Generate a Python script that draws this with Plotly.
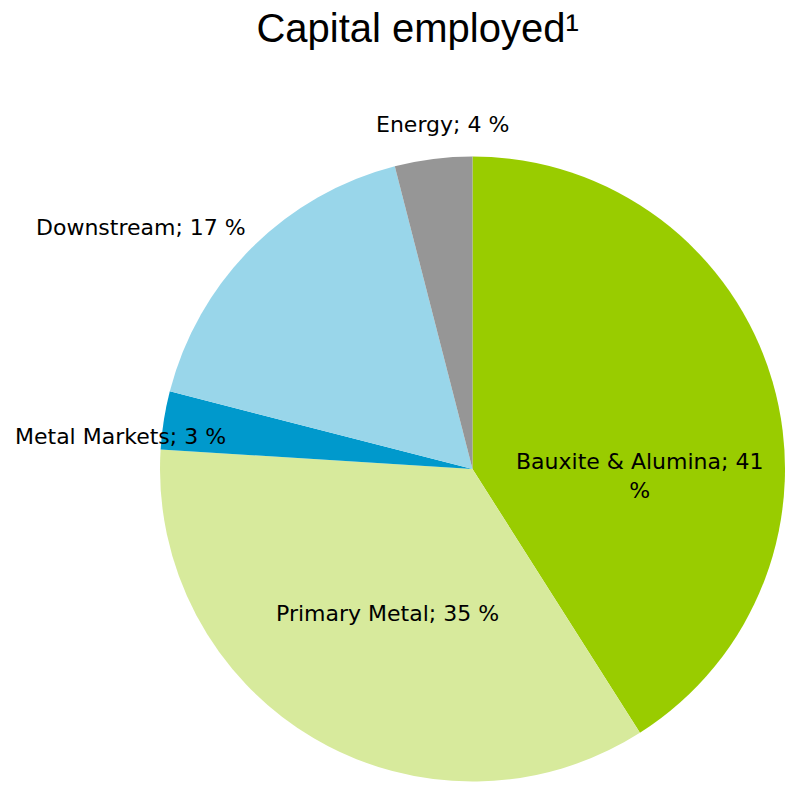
import plotly.graph_objects as go

# Capital employed by business area (share of total, %)
segments = ["Bauxite & Alumina", "Primary Metal", "Metal Markets", "Downstream", "Energy"]
shares = [41, 35, 3, 17, 4]
colors = ["#99CC00", "#D7EA9C", "#0099CC", "#99D6EA", "#969696"]

# Label anchor points (paper coordinates) and line wrapping
label_pos = [(0.815, 0.395), (0.493, 0.219), (0.154, 0.445), (0.180, 0.711), (0.564, 0.841)]
wrap_last = [True, False, False, False, False]

W, H = 785, 786
cx, cy, r = 474, 469, 314  # pie centre / radius in pixels (from top-left)

fig = go.Figure(
    go.Pie(
        labels=segments,
        values=shares,
        sort=False,
        direction="clockwise",
        rotation=0,
        marker=dict(colors=colors, line=dict(width=0)),
        textinfo="none",
        hoverinfo="label+value",
        showlegend=False,
        domain=dict(
            x=[(cx - r) / W, min(1.0, (cx + r) / W)],
            y=[(H - cy - r) / H, (H - cy + r) / H],
        ),
    )
)

annotations = []
for name, val, (px, py), wrap in zip(segments, shares, label_pos, wrap_last):
    txt = f"{name}; {val} %"
    if wrap:
        head, tail = txt.rsplit(" ", 1)
        txt = f"{head}<br>{tail}"
    annotations.append(
        dict(
            x=px, y=py, xref="paper", yref="paper",
            text=txt, showarrow=False,
            xanchor="center", yanchor="middle",
            font=dict(family="DejaVu Sans", size=22, color="#000000"),
        )
    )

fig.update_layout(
    width=W,
    height=H,
    margin=dict(l=0, r=0, t=0, b=0),
    paper_bgcolor="white",
    plot_bgcolor="white",
    title=dict(
        text="Capital employed\u00b9",
        x=0.532, xanchor="center",
        y=0.965, yanchor="middle",
        font=dict(family="Liberation Sans, Arial", size=40, color="#000000"),
    ),
    annotations=annotations,
)

fig.write_html("out.html")
